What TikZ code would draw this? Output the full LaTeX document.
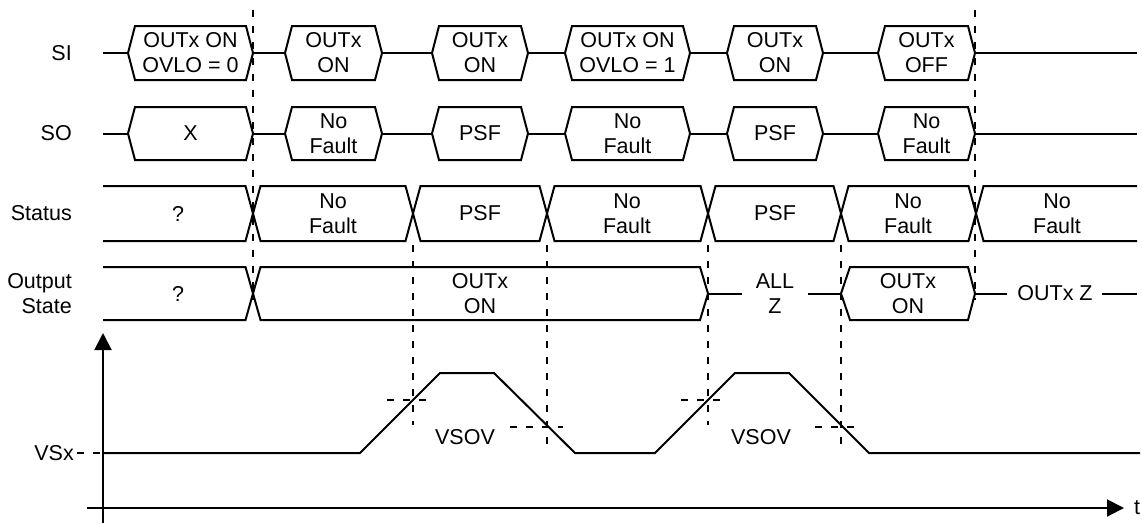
\documentclass[tikz,border=0pt]{standalone}
\usepackage{fontspec}
\setmainfont{Liberation Sans}
\usetikzlibrary{arrows.meta}

\begin{document}
\begin{tikzpicture}[x=1pt, y=-1pt,
  sig/.style = {line width=2pt, line join=miter},
  guide/.style = {line width=2pt, dash pattern=on 7pt off 9pt},
  txt/.style = {font=\fontsize{21.5}{25}\selectfont, align=center, inner sep=0pt},
  rowlabel/.style = {txt, anchor=east, align=right},
  axisarrow/.style = {sig, -{Triangle[length=17pt, width=17pt]}}]
\useasboundingbox (0,0) rectangle (1142,523);

\node[rowlabel] (si) at (72,53) {SI};
\node[rowlabel] (so) at (72,133.5) {SO};
\node[rowlabel] (status) at (72,213.5) {Status};
\node[rowlabel] (outstate) at (72,293.5) {Output\\State};
\node[rowlabel] (vsx) at (74,453) {VSx};

% SI / SO frames
\foreach \l/\r/\a/\b [count=\i] in {128/253/{OUTx ON\\OVLO = 0}/X, 285/382/{OUTx\\ON}/{No\\Fault},
    432/528/{OUTx\\ON}/PSF, 565/690/{OUTx ON\\OVLO = 1}/{No\\Fault},
    727/823/{OUTx\\ON}/PSF, 878/975/{OUTx\\OFF}/{No\\Fault}} {
  \draw[sig] (\l,53) -- (\l+7,26) -- (\r-7,26) -- (\r,53) -- (\r-7,80) -- (\l+7,80) -- cycle;
  \draw[sig] (\l,133.5) -- (\l+7,107) -- (\r-7,107) -- (\r,133.5) -- (\r-7,160) -- (\l+7,160) -- cycle;
  \node[txt] (si\i) at ({(\l+\r)/2},53) {\a};
  \node[txt] (so\i) at ({(\l+\r)/2},133.5) {\b};
}
\foreach \y in {53,133.5}
  \foreach \a/\b in {103/128, 253/285, 382/432, 528/565, 690/727, 823/878, 975/1137}
    \draw[sig] (\a,\y) -- (\b,\y);

% Status
\draw[sig] (103,186) -- (245.5,186) -- (253,213.5) -- (245.5,241) -- (103,241);
\foreach \l/\r in {253/413, 413/547, 547/708, 708/841, 841/976}
  \draw[sig] (\l,213.5) -- (\l+7.5,186) -- (\r-7.5,186) -- (\r,213.5) -- (\r-7.5,241) -- (\l+7.5,241) -- cycle;
\draw[sig] (1137,186) -- (983.5,186) -- (976,213.5) -- (983.5,241) -- (1137,241);
\foreach \x/\s [count=\i] in {178/?, 333/{No\\Fault}, 480/PSF, 627/{No\\Fault}, 775/PSF, 908/{No\\Fault}, 1057/{No\\Fault}}
  \node[txt] (st\i) at (\x,213.5) {\s};

% Output State
\draw[sig] (103,267) -- (245.5,267) -- (253,293.5) -- (245.5,320) -- (103,320);
\draw[sig] (253,293.5) -- (260.5,267) -- (700,267) -- (708,293.5) -- (700,320) -- (260.5,320) -- cycle;
\draw[sig] (841,293.5) -- (850,267) -- (968,267) -- (975,293.5) -- (968,320) -- (850,320) -- cycle;
\node[txt] (os1) at (178,293.5) {?};
\node[txt] (os2) at (480,293.5) {OUTx\\ON};
\node[txt] (os3) at (775,293.5) {ALL\\Z};
\node[txt] (os4) at (908,293.5) {OUTx\\ON};
\node[txt] (os5) at (1055,293.5) {OUTx Z};
\draw[sig] (708,293.5) -- (742,293.5);
\draw[sig] (808,293.5) -- (841,293.5);
\draw[sig] (975,293.5) -- (1007,293.5);
\draw[sig] (1102,293.5) -- (1137,293.5);

% guides
\draw[guide] (253,10) -- (253,300);
\draw[guide] (975,10) -- (975,300);
\foreach \x/\e in {413/425, 547/447, 708/425, 841/447}
  \draw[guide] (\x,245) -- (\x,\e);
\draw[guide] (387,400) -- (429,400);
\draw[guide] (510,427) -- (563,427);
\draw[guide] (681,400) -- (722,400);
\draw[guide] (815,427) -- (855,427);
\draw[guide] (77,453) -- (103,453);

% VSx waveform
\draw[sig] (103,453) -- (360,453) -- (440,373) -- (494,373) -- (575,453) -- (655,453)
  -- (735,373) -- (789,373) -- (869,453) -- (1140,453);
\node[txt] (vsov1) at (465,437) {VSOV};
\node[txt] (vsov2) at (761,437) {VSOV};

% axes
\draw[axisarrow] (103,523) -- (103,333);
\draw[axisarrow] (87,508) -- (1124,508);
\node[txt, anchor=west] (t) at (1134,508) {t};
\end{tikzpicture}
\end{document}
